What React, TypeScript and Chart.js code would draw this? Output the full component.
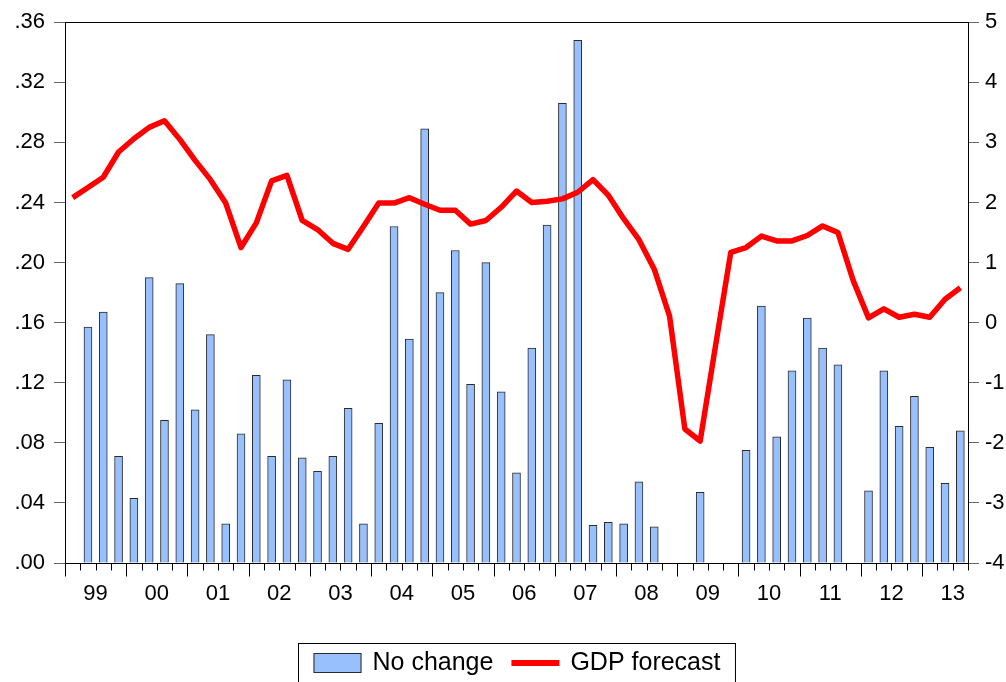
import React, { useEffect, useRef } from 'react';
import { Chart, registerables } from 'chart.js';

Chart.register(...registerables);

const yearLabels = ['99', '00', '01', '02', '03', '04', '05', '06', '07', '08', '09', '10', '11', '12', '13'];
const quarterNames = ['Q1', 'Q2', 'Q3', 'Q4'];

const noChange: (number | null)[] = [
  null, 0.157, 0.167, 0.071,
  0.043, 0.190, 0.095, 0.186,
  0.102, 0.152, 0.026, 0.086,
  0.125, 0.071, 0.122, 0.070,
  0.061, 0.071, 0.103, 0.026,
  0.093, 0.224, 0.149, 0.289,
  0.180, 0.208, 0.119, 0.200,
  0.114, 0.060, 0.143, 0.225,
  0.306, 0.348, 0.025, 0.027,
  0.026, 0.054, 0.024, null,
  null, 0.047, null, null,
  0.075, 0.171, 0.084, 0.128,
  0.163, 0.143, 0.132, null,
  0.048, 0.128, 0.091, 0.111,
  0.077, 0.053, 0.088,
];

const gdpForecast: number[] = [
  2.08, 2.25, 2.42, 2.84,
  3.06, 3.25, 3.36, 3.05,
  2.70, 2.38, 1.99, 1.25,
  1.66, 2.36, 2.45, 1.70,
  1.55, 1.32, 1.22, 1.60,
  1.99, 1.99, 2.08, 1.97,
  1.87, 1.87, 1.64, 1.70,
  1.92, 2.19, 2.00, 2.02,
  2.06, 2.17, 2.38, 2.12,
  1.73, 1.38, 0.89, 0.11,
  -1.77, -1.97, -0.39, 1.17,
  1.25, 1.44, 1.36, 1.36,
  1.45, 1.61, 1.50, 0.70,
  0.08, 0.23, 0.09, 0.14,
  0.09, 0.39, 0.58,
];

const leftTicks = [0, 0.04, 0.08, 0.12, 0.16, 0.2, 0.24, 0.28, 0.32, 0.36];
const rightTicks = [-4, -3, -2, -1, 0, 1, 2, 3, 4, 5];

const quarterLabels = yearLabels
  .flatMap((y) => quarterNames.map((q) => `${y}${q}`))
  .slice(0, noChange.length);

const FONT = 'Arial, "Liberation Sans", sans-serif';
const BAR_FILL = '#98c0fc';
const BAR_EDGE = '#2b2b2b';
const LINE_COLOR = '#ff0000';

const decorPlugin = {
  id: 'decor',
  afterDatasetsDraw(chart: any) {
    const { ctx, chartArea } = chart;
    const xs = chart.scales.x;
    const n = quarterLabels.length;
    ctx.save();
    // frame
    ctx.strokeStyle = '#000';
    ctx.lineWidth = 1;
    ctx.strokeRect(
      Math.round(chartArea.left) + 0.5,
      Math.round(chartArea.top) + 0.5,
      Math.round(chartArea.right - chartArea.left),
      Math.round(chartArea.bottom - chartArea.top)
    );
    // x ticks
    const yb = Math.round(chartArea.bottom) + 0.5;
    for (let i = 0; i <= n; i++) {
      const x = Math.round(xs.getPixelForValue(i - 0.5)) + 0.5;
      const major = i % 4 === 0 && i < n;
      ctx.beginPath();
      ctx.moveTo(x, yb);
      ctx.lineTo(x, yb + (major ? 13 : 7));
      ctx.stroke();
    }
    // year labels
    ctx.fillStyle = '#000';
    ctx.font = `22px ${FONT}`;
    ctx.textAlign = 'center';
    ctx.textBaseline = 'middle';
    yearLabels.forEach((lab, k) => {
      const x = xs.getPixelForValue(4 * k + 1.5);
      ctx.fillText(lab, x, chartArea.bottom + 31);
    });
    // legend
    const ds = chart.data.datasets;
    const barDs = ds.find((d: any) => d.type === 'bar');
    const lineDs = ds.find((d: any) => d.type === 'line');
    ctx.font = `25px ${FONT}`;
    const w1 = ctx.measureText(barDs.label).width;
    const w2 = ctx.measureText(lineDs.label).width;
    const pad = 15, sym = 48, gap = 11, between = 18;
    const total = pad + sym + gap + w1 + between + sym + gap + w2 + pad;
    const cx = (chartArea.left + chartArea.right) / 2;
    const bx = Math.round(cx - total / 2) + 0.5;
    const by = 643.5;
    const cy = 663;
    ctx.strokeStyle = '#000';
    ctx.lineWidth = 1;
    ctx.strokeRect(bx, by, total, 60);
    let x = bx + pad;
    ctx.fillStyle = BAR_FILL;
    ctx.fillRect(x, cy - 10, sym, 20);
    ctx.strokeStyle = BAR_EDGE;
    ctx.strokeRect(x + 0.5, cy - 10 + 0.5, sym - 1, 19);
    x += sym + gap;
    ctx.fillStyle = '#000';
    ctx.textAlign = 'left';
    ctx.fillText(barDs.label, x, cy);
    x += w1 + between;
    ctx.strokeStyle = LINE_COLOR;
    ctx.lineWidth = 6;
    ctx.beginPath();
    ctx.moveTo(x, cy);
    ctx.lineTo(x + sym, cy);
    ctx.stroke();
    x += sym + gap;
    ctx.fillStyle = '#000';
    ctx.fillText(lineDs.label, x, cy);
    ctx.restore();
  },
};

export default function App() {
  const canvasRef = useRef<HTMLCanvasElement | null>(null);

  useEffect(() => {
    document.body.style.margin = '0';
    const canvas = canvasRef.current;
    if (!canvas) return;
    const chart = new Chart(canvas, {
      type: 'bar',
      data: {
        labels: quarterLabels,
        datasets: [
          {
            type: 'line',
            label: 'GDP forecast',
            data: gdpForecast,
            yAxisID: 'y1',
            borderColor: LINE_COLOR,
            borderWidth: 5.5,
            pointRadius: 0,
            tension: 0,
            borderJoinStyle: 'round',
            borderCapStyle: 'butt',
            order: 0,
          } as any,
          {
            type: 'bar',
            label: 'No change',
            data: noChange,
            yAxisID: 'y',
            backgroundColor: BAR_FILL,
            borderColor: BAR_EDGE,
            borderWidth: 1,
            barThickness: 8,
            order: 1,
          } as any,
        ],
      },
      options: {
        responsive: false,
        animation: false,
        events: [],
        layout: { padding: { top: 22, left: 0, right: 0, bottom: 0 } },
        plugins: {
          legend: { display: false },
          tooltip: { enabled: false },
        },
        scales: {
          x: {
            type: 'category',
            offset: true,
            grid: { display: false },
            border: { display: false },
            ticks: { display: false },
            afterFit: (s: any) => { s.height = 119; },
          },
          y: {
            position: 'left',
            min: 0,
            max: 0.36,
            afterBuildTicks: (s: any) => { s.ticks = leftTicks.map((v) => ({ value: v })); },
            ticks: {
              color: '#000',
              padding: 9,
              font: { family: FONT, size: 22 },
              callback: (v: any) => Number(v).toFixed(2).replace(/^0/, ''),
            },
            grid: { drawOnChartArea: false, tickLength: 11, tickColor: '#666', color: '#666' },
            border: { display: true, color: '#000' },
            afterFit: (s: any) => { s.width = 65; },
          },
          y1: {
            position: 'right',
            min: -4,
            max: 5,
            afterBuildTicks: (s: any) => { s.ticks = rightTicks.map((v) => ({ value: v })); },
            ticks: {
              color: '#000',
              padding: 6,
              font: { family: FONT, size: 22 },
              callback: (v: any) => String(v),
            },
            grid: { drawOnChartArea: false, tickLength: 11, tickColor: '#666', color: '#666' },
            border: { display: true, color: '#000' },
            afterFit: (s: any) => { s.width = 38; },
          },
        },
      },
      plugins: [decorPlugin],
    });
    return () => chart.destroy();
  }, []);

  return (
    <div style={{ position: 'fixed', left: 0, top: 0, width: 1006, height: 682, background: '#fff' }}>
      <canvas ref={canvasRef} width={1006} height={682} style={{ display: 'block' }} />
    </div>
  );
}
